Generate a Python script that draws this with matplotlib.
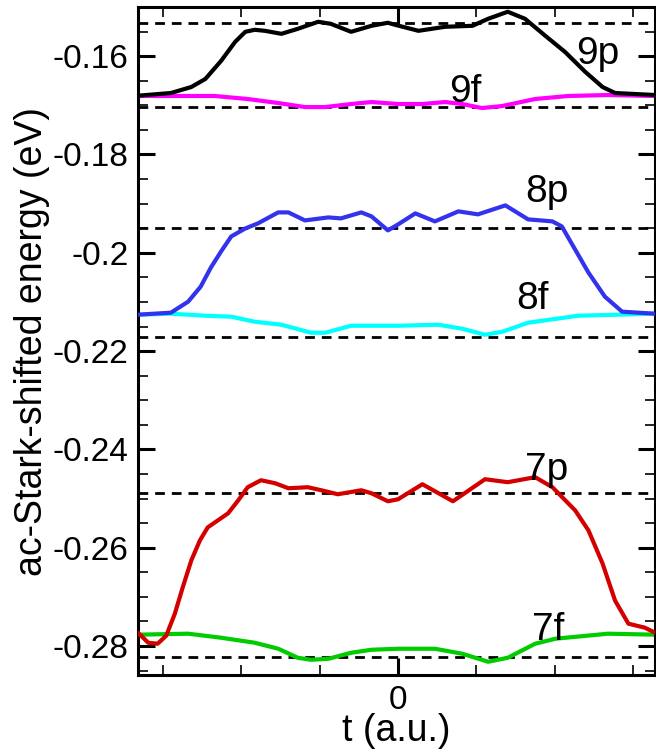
import matplotlib
matplotlib.use("Agg")
import matplotlib.pyplot as plt
from matplotlib.ticker import MultipleLocator, FixedLocator

plt.rcParams['font.family'] = ['Liberation Sans', 'DejaVu Sans']

# time axis (arbitrary units, 0 = pulse centre) and energies in eV
t_9p = [-3.32, -2.90, -2.64, -2.46, -2.26, -2.08, -1.95, -1.83, -1.70, -1.49, -1.28, -1.02,
        -0.86, -0.60, -0.34, -0.13, -0.04, 0.26, 0.60, 0.95, 1.15, 1.40, 1.62, 1.88, 2.13,
        2.39, 2.61, 2.77, 3.28]
e_9p = [-0.16804, -0.16749, -0.16627, -0.16463, -0.16096, -0.15708, -0.15504, -0.15463,
        -0.15484, -0.15545, -0.15443, -0.15300, -0.15341, -0.15504, -0.15382, -0.15320,
        -0.15361, -0.15484, -0.15402, -0.15382, -0.15239, -0.15096, -0.15239, -0.15586,
        -0.15912, -0.16320, -0.16627, -0.16749, -0.16790]

t_9f = [-3.32, -2.34, -1.92, -1.53, -1.19, -0.93, -0.60, -0.34, 0.0, 0.31, 0.60, 0.82,
        1.07, 1.33, 1.75, 2.17, 2.68, 3.28]
e_9f = [-0.16810, -0.16810, -0.16871, -0.16953, -0.17035, -0.17035, -0.16973, -0.16933,
        -0.16973, -0.16973, -0.16933, -0.16973, -0.17055, -0.17014, -0.16871, -0.16810,
        -0.16790, -0.16810]

t_8p = [-3.32, -2.90, -2.68, -2.52, -2.39, -2.26, -2.13, -1.95, -1.79, -1.53, -1.40, -1.19,
        -0.89, -0.73, -0.47, -0.34, -0.13, 0.0, 0.22, 0.47, 0.77, 1.02, 1.37, 1.66, 1.97,
        2.09, 2.26, 2.43, 2.64, 2.86, 3.28]
e_8p = [-0.21259, -0.21218, -0.20994, -0.20688, -0.20300, -0.19973, -0.19667, -0.19504,
        -0.19402, -0.19178, -0.19178, -0.19341, -0.19280, -0.19300, -0.19178, -0.19259,
        -0.19544, -0.19422, -0.19198, -0.19361, -0.19157, -0.19218, -0.19035, -0.19320,
        -0.19361, -0.19463, -0.19933, -0.20402, -0.20892, -0.21198, -0.21239]

t_8f = [-3.32, -2.90, -2.46, -2.13, -1.83, -1.49, -1.11, -0.93, -0.60, -0.34, 0.0, 0.51,
        0.82, 1.11, 1.33, 1.66, 2.30, 3.28]
e_8f = [-0.21259, -0.21239, -0.21280, -0.21300, -0.21402, -0.21463, -0.21626, -0.21626,
        -0.21484, -0.21484, -0.21484, -0.21463, -0.21545, -0.21667, -0.21606, -0.21422,
        -0.21280, -0.21239]

t_7p = [-3.32, -3.19, -3.07, -2.96, -2.85, -2.75, -2.64, -2.53, -2.43, -2.30, -2.17, -2.04,
        -1.92, -1.75, -1.57, -1.40, -1.15, -0.98, -0.77, -0.47, -0.34, -0.13, 0.0, 0.31,
        0.70, 1.11, 1.40, 1.75, 1.97, 2.26, 2.43, 2.61, 2.77, 2.94, 3.15, 3.28]
e_7p = [-0.27729, -0.27933, -0.27953, -0.27790, -0.27341, -0.26810, -0.26259, -0.25851,
        -0.25586, -0.25443, -0.25300, -0.25035, -0.24769, -0.24627, -0.24688, -0.24790,
        -0.24769, -0.24831, -0.24912, -0.24831, -0.24892, -0.25055, -0.25014, -0.24708,
        -0.25055, -0.24606, -0.24667, -0.24565, -0.24769, -0.25239, -0.25647, -0.26320,
        -0.27075, -0.27545, -0.27627, -0.27729]

t_7f = [-3.32, -2.68, -2.26, -1.83, -1.53, -1.28, -1.11, -0.89, -0.60, -0.34, 0.0, 0.47,
        0.82, 1.15, 1.40, 1.75, 2.01, 2.68, 3.28]
e_7f = [-0.27769, -0.27749, -0.27831, -0.27933, -0.28055, -0.28239, -0.28280, -0.28259,
        -0.28137, -0.28076, -0.28055, -0.28055, -0.28157, -0.28320, -0.28239, -0.27953,
        -0.27851, -0.27749, -0.27769]

# field-free reference levels (dashed)
levels = [-0.1533, -0.1704, -0.1949, -0.2171, -0.2488, -0.2822]

labels = ['9p', '9f', '8p', '8f', '7p', '7f']
label_t = [2.55, 0.86, 1.90, 1.72, 1.89, 1.92]
label_e = [-0.1595, -0.1672, -0.1877, -0.2093, -0.2442, -0.2768]

fig = plt.figure(figsize=(6.56, 7.56), dpi=100)
ax = fig.add_axes([0.2104, 0.1071, 0.7881, 0.8836])

for lv in levels:
    ax.axhline(lv, color='black', lw=2, ls=(0, (3.5, 2.5)), zorder=1)

kw = dict(lw=3, solid_joinstyle='round', solid_capstyle='round')
ax.plot(t_9f, e_9f, color='#ff00ff', zorder=2, **kw)
ax.plot(t_9p, e_9p, color='black', zorder=3, **kw)
ax.plot(t_8f, e_8f, color='#00ffff', zorder=2, **kw)
ax.plot(t_8p, e_8p, color='#3333ee', zorder=3, **kw)
ax.plot(t_7f, e_7f, color='#00cc00', zorder=2, **kw)
ax.plot(t_7p, e_7p, color='#d40000', zorder=3, **kw)

for lab, tx, ey in zip(labels, label_t, label_e):
    ax.text(tx, ey, lab, fontsize=28, ha='center', va='center')

ax.set_xlim(-3.32, 3.28)
ax.set_ylim(-0.2859, -0.15)
ax.xaxis.set_major_locator(FixedLocator([0]))
ax.xaxis.set_minor_locator(FixedLocator([-3, -2, -1, 1, 2, 3]))
ax.yaxis.set_minor_locator(MultipleLocator(0.005))
ax.set_yticks([-0.28, -0.26, -0.24, -0.22, -0.2, -0.18, -0.16])
ax.set_yticklabels(['-0.28', '-0.26', '-0.24', '-0.22', '-0.2', '-0.18', '-0.16'])

ax.tick_params(which='both', direction='in', top=True, right=True, labelsize=24, pad=7)
ax.tick_params(which='major', length=12, width=2.2)
ax.tick_params(which='minor', length=7, width=1.2)
for sp in ax.spines.values():
    sp.set_linewidth(2.2)

ax.set_xlabel('t (a.u.)', fontsize=27, labelpad=-2)
ax.set_ylabel('ac-Stark-shifted energy (eV)', fontsize=27, labelpad=2)

fig.savefig('out.png', dpi=100)
